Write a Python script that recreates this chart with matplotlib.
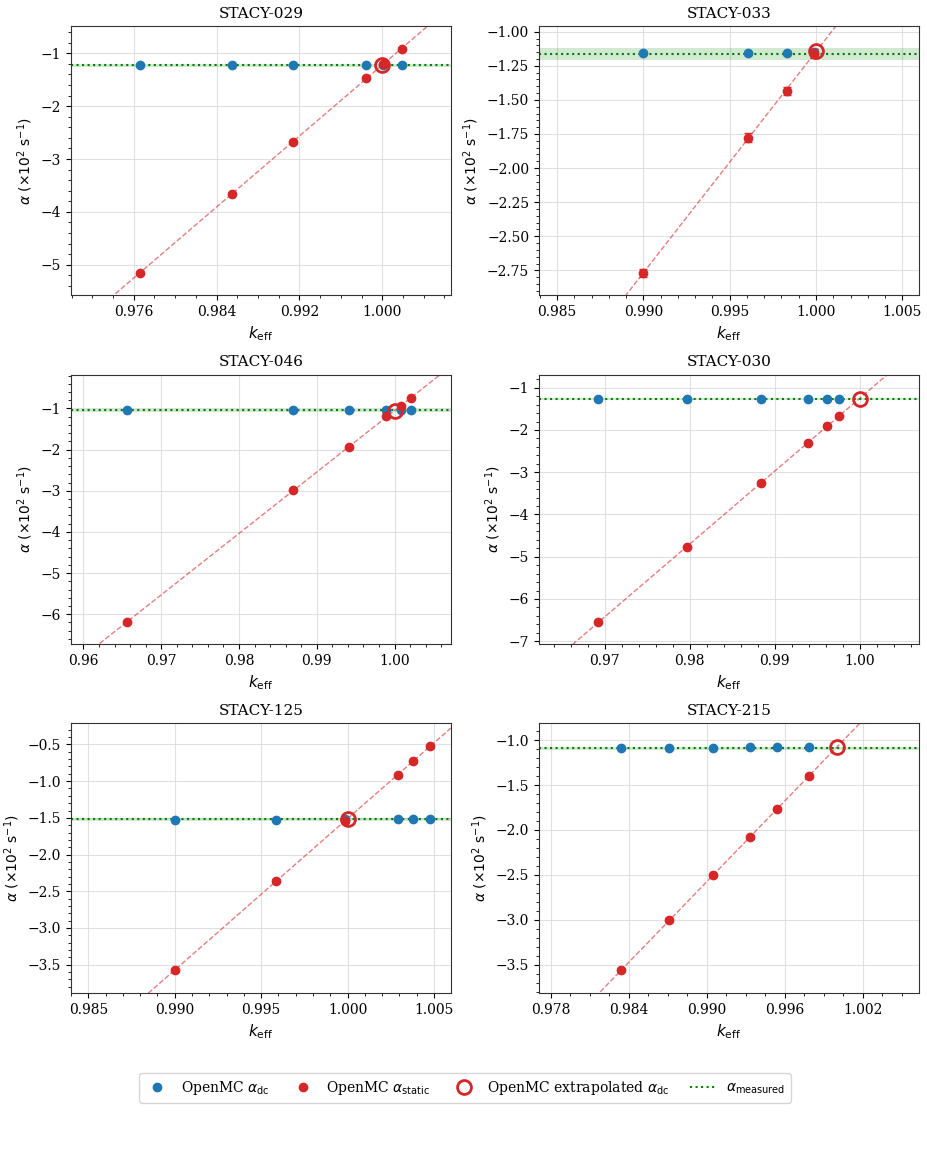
import numpy as np
import matplotlib
matplotlib.use("Agg")
import matplotlib.pyplot as plt
from matplotlib.ticker import MultipleLocator, AutoMinorLocator
from matplotlib.lines import Line2D

plt.rcParams['font.family'] = 'serif'
plt.rcParams['mathtext.fontset'] = 'dejavusans'

# =========================
# DATA (alpha in 1e2 1/s)
# =========================
CASES = ['STACY-029', 'STACY-033', 'STACY-046', 'STACY-030', 'STACY-125', 'STACY-215']

keff_029 = [0.97658, 0.98545, 0.99139, 0.99846, 1.00005, 1.00187]
adc_029 = [-1.227, -1.227, -1.227, -1.226, -1.225, -1.226]
astat_029 = [-5.152, -3.667, -2.668, -1.474, -1.210, -0.912]
meas_029, meas_err_029 = -1.227, 0.025
extrap_029 = -1.227

keff_033 = [0.99000, 0.99603, 0.99829, 0.99990]
adc_033 = [-1.154, -1.154, -1.154, -1.150]
astat_033 = [-2.770, -1.776, -1.434, -1.160]
meas_033, meas_err_033 = -1.164, 0.044
extrap_033 = -1.145

keff_046 = [0.96557, 0.98700, 0.99415, 0.99893, 1.00077, 1.00214]
adc_046 = [-1.049, -1.049, -1.049, -1.048, -1.049, -1.049]
astat_046 = [-6.195, -2.989, -1.925, -1.195, -0.951, -0.740]
meas_046, meas_err_046 = -1.049, 0.03
extrap_046 = -1.05

keff_030 = [0.96921, 0.97965, 0.98835, 0.99393, 0.99617, 0.99757]
adc_030 = [-1.269, -1.269, -1.267, -1.265, -1.265, -1.265]
astat_030 = [-6.549, -4.771, -3.253, -2.312, -1.901, -1.664]
meas_030, meas_err_030 = -1.269, 0.03
extrap_030 = -1.261

keff_125 = [0.98999, 0.99587, 0.99985, 1.00291, 1.00376, 1.00478]
adc_125 = [-1.523, -1.523, -1.520, -1.521, -1.521, -1.521]
astat_125 = [-3.577, -2.359, -1.541, -0.918, -0.732, -0.523]
meas_125, meas_err_125 = -1.520, 0.02
extrap_125 = -1.509

keff_215 = [0.98344, 0.98710, 0.99051, 0.99331, 0.99541, 0.99785]
adc_215 = [-1.082, -1.082, -1.082, -1.079, -1.079, -1.079]
astat_215 = [-3.563, -3.005, -2.506, -2.082, -1.765, -1.401]
meas_215, meas_err_215 = -1.089, 0.015
extrap_215 = -1.078

KEFF = [keff_029, keff_033, keff_046, keff_030, keff_125, keff_215]
ADC = [adc_029, adc_033, adc_046, adc_030, adc_125, adc_215]
ASTAT = [astat_029, astat_033, astat_046, astat_030, astat_125, astat_215]
MEAS = [meas_029, meas_033, meas_046, meas_030, meas_125, meas_215]
MEAS_ERR = [meas_err_029, meas_err_033, meas_err_046, meas_err_030, meas_err_125, meas_err_215]
EXTRAP = [extrap_029, extrap_033, extrap_046, extrap_030, extrap_125, extrap_215]
STAT_ERR = [0.02, 0.03, 0.02, 0.02, 0.02, 0.02]

# =========================
# AXES SETTINGS
# =========================
XLIMS = [(0.96992, 1.00663), (0.98394, 1.00597), (0.95837, 1.00724),
         (0.96223, 1.00699), (0.98398, 1.00598), (0.97710, 1.00633)]
YLIMS = [(-5.581, -0.482), (-2.934, -0.958), (-6.730, -0.180),
         (-7.071, -0.692), (-3.886, -0.214), (-3.816, -0.814)]
XSTEP = [0.008, 0.005, 0.01, 0.01, 0.005, 0.006]
YSTEP = [1, 0.25, 1, 1, 0.5, 0.5]

C_DC = '#1f77b4'
C_ST = '#d62728'
C_MEAS = 'green'

fig, axes = plt.subplots(3, 2, figsize=(9.27, 11.7), dpi=100)
fig.subplots_adjust(left=0.0763, right=0.9914, top=0.9778, bottom=0.1513,
                    wspace=0.2315, hspace=0.294)

for i, ax in enumerate(axes.flat):
    k = np.array(KEFF[i])
    a_st = np.array(ASTAT[i])
    x0, x1 = XLIMS[i]

    # linear fit through static alphas
    p = np.polyfit(k, a_st, 1)
    xf = np.array([x0, x1])
    ax.plot(xf, np.polyval(p, xf), '--', color=C_ST, alpha=0.6, lw=1, zorder=2)

    # measured value
    ax.axhspan(MEAS[i] - MEAS_ERR[i], MEAS[i] + MEAS_ERR[i], color=C_MEAS, alpha=0.18, lw=0, zorder=1)
    ax.axhline(MEAS[i], color=C_MEAS, ls=':', lw=1.5, zorder=2)

    ax.plot(k, ADC[i], 'o', color=C_DC, ms=6, zorder=3)
    ax.errorbar(k, a_st, yerr=STAT_ERR[i], fmt='o', color=C_ST, ms=6,
                capsize=3, elinewidth=1, zorder=4)
    ax.plot([1.0], [EXTRAP[i]], 'o', mfc='none', mec=C_ST, ms=10, mew=2, zorder=5)

    ax.set_xlim(x0, x1)
    ax.set_ylim(*YLIMS[i])
    ax.xaxis.set_major_locator(MultipleLocator(XSTEP[i]))
    ax.yaxis.set_major_locator(MultipleLocator(YSTEP[i]))
    ax.xaxis.set_minor_locator(AutoMinorLocator())
    ax.yaxis.set_minor_locator(AutoMinorLocator())
    ax.tick_params(which='major', length=3.5, labelsize=10)
    ax.tick_params(which='minor', length=2)
    ax.grid(True, which='major', color='#d9d9d9', lw=0.8, alpha=0.8)
    ax.set_axisbelow(True)
    for s in ax.spines.values():
        s.set_color('#333333')

    ax.set_title(CASES[i], fontsize=11)
    ax.set_xlabel(r'$k_{\mathrm{eff}}$', fontsize=11)
    ax.set_ylabel(r'$\alpha\ (\times 10^{2}\ \mathrm{s}^{-1})$', fontsize=10)

handles = [
    Line2D([], [], marker='o', ls='none', color=C_DC, ms=6),
    Line2D([], [], marker='o', ls='none', color=C_ST, ms=6),
    Line2D([], [], marker='o', ls='none', mfc='none', mec=C_ST, ms=10, mew=2),
    Line2D([], [], ls=':', color=C_MEAS, lw=1.5),
]
labels = [r'OpenMC $\alpha_{\mathrm{dc}}$', r'OpenMC $\alpha_{\mathrm{static}}$',
          r'OpenMC extrapolated $\alpha_{\mathrm{dc}}$', r'$\alpha_{\mathrm{measured}}$']
fig.legend(handles, labels, loc='center', bbox_to_anchor=(0.5016, 0.0701), ncol=4,
           fontsize=10, frameon=True, columnspacing=1.5, handlelength=1.8)

plt.savefig('out.png', dpi=100)
